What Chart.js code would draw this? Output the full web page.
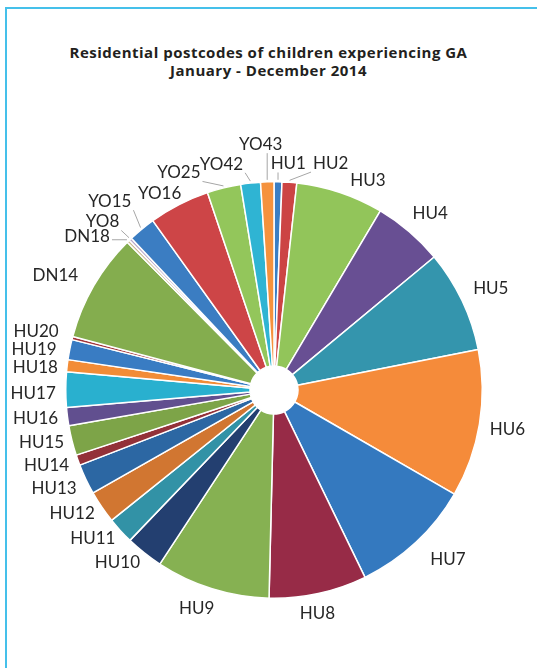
<!DOCTYPE html>
<html>
<head>
<meta charset="utf-8">
<script src="https://cdn.jsdelivr.net/npm/chart.js@4.4.1/dist/chart.umd.min.js"></script>
<style>
  html, body { margin: 0; padding: 0; background: #fff; }
  body { width: 537px; height: 668px; position: relative; overflow: hidden; }
  #frame {
    position: absolute; left: 5px; top: 7px; right: -10px; bottom: -10px;
    border-left: 2px solid #45c0ea; border-top: 2px solid #45c0ea;
  }
  .title {
    position: absolute; left: 0; width: 537px; text-align: center;
    font: bold 15px "Open Sans", sans-serif; color: #231f20; letter-spacing: 0.5px;
  }
  #chart { position: absolute; left: 0; top: 0; }
</style>
</head>
<body>
<div id="frame"></div>
<div class="title" style="top:42px">Residential postcodes of children experiencing GA</div>
<div class="title" style="top:60px">January - December 2014</div>
<canvas id="chart" width="537" height="668"></canvas>
<script>
// postcode districts, clockwise from 12 o'clock
const postcodes = ['HU1', 'HU2', 'HU3', 'HU4', 'HU5', 'HU6', 'HU7', 'HU8', 'HU9', 'HU10',
  'HU11', 'HU12', 'HU13', 'HU14', 'HU15', 'HU16', 'HU17', 'HU18', 'HU19', 'HU20',
  'DN14', 'DN18', 'YO8', 'YO15', 'YO16', 'YO25', 'YO42', 'YO43'];

// share of children (%)
const shares = [0.61, 1.14, 6.78, 5.44, 7.92, 11.44, 9.47, 7.58, 8.86, 2.92,
  2.08, 2.53, 2.36, 0.81, 2.31, 1.42, 2.72, 0.94, 1.56, 0.25,
  8.42, 0.22, 0.22, 2.11, 4.72, 2.61, 1.53, 1.03];

const sliceColours = ['#3a7ec4', '#cc4444', '#92c55a', '#684f93', '#3495ad', '#f58b3a', '#3479bf', '#972b47', '#86b152', '#233f70',
  '#3292a6', '#d17631', '#2c67a3', '#933139', '#7da448', '#614f8f', '#29b0cf', '#f28c37', '#397cc3', '#a3343a',
  '#84ad4e', '#cdb992', '#b8a7c9', '#3b7dc2', '#cd4547', '#93c65b', '#2fb4d3', '#f5923d'];

// hand tweaks for crowded labels: [dx, dy, leader line]
const labelNudge = {
  HU1: [10, -2, true], HU2: [40, -2, true], HU3: [21, 8], HU4: [4, 1], HU5: [3, 0],
  HU7: [14, -3], HU8: [-5, 0], HU9: [-9, -1], HU10: [-9, -13], HU11: [-5, -13],
  HU12: [-3, -12], HU13: [-2, -5], HU14: [0, -6], HU15: [2, -7], HU16: [1, -3],
  HU17: [0, 3], HU18: [1, 5], HU19: [-3, 6], HU20: [-4, 1], DN14: [-10, 6],
  DN18: [-20, 16, true], YO8: [-10, 1, true], YO15: [-14, -6, true], YO16: [-8, 11],
  YO25: [-40, 5, true], YO42: [-27, -1, true], YO43: [-6, -21, true]
};

const outsideLabels = {
  id: 'outsideLabels',
  afterDatasetsDraw(chart) {
    const ctx = chart.ctx;
    const arcs = chart.getDatasetMeta(0).data;
    ctx.save();
    ctx.font = '17px Lato';
    ctx.lineWidth = 1;
    arcs.forEach((arc, i) => {
      const p = arc.getProps(['x', 'y', 'startAngle', 'endAngle', 'outerRadius'], true);
      const mid = (p.startAngle + p.endAngle) / 2;
      const cos = Math.cos(mid), sin = Math.sin(mid);
      const name = chart.data.labels[i];
      const w = ctx.measureText(name).width;
      const h = 12;
      const d = p.outerRadius + 10 + Math.abs(cos) * w / 2 + Math.abs(sin) * h / 2;
      const nudge = labelNudge[name] || [0, 0, false];
      const lx = p.x + cos * d + nudge[0];
      const ly = p.y + sin * d + nudge[1];
      if (nudge[2]) {
        const sx = p.x + cos * (p.outerRadius + 2);
        const sy = p.y + sin * (p.outerRadius + 2);
        const ex = Math.max(lx - w / 2 - 2, Math.min(sx, lx + w / 2 + 2));
        const ey = Math.max(ly - h / 2 - 3, Math.min(sy, ly + h / 2 + 3));
        ctx.strokeStyle = '#a6a6a6';
        ctx.beginPath();
        ctx.moveTo(sx, sy);
        ctx.lineTo(ex, ey);
        ctx.stroke();
      }
      ctx.fillStyle = '#262626';
      ctx.textAlign = 'center';
      ctx.textBaseline = 'alphabetic';
      ctx.fillText(name, lx, ly + 6);
    });
    ctx.restore();
  }
};

new Chart(document.getElementById('chart'), {
  type: 'doughnut',
  data: {
    labels: postcodes,
    datasets: [{
      data: shares,
      backgroundColor: sliceColours,
      borderColor: '#ffffff',
      borderWidth: 1.5
    }]
  },
  options: {
    responsive: false,
    animation: false,
    cutout: 24,
    layout: { padding: { left: 65, top: 181, right: 54, bottom: 69 } },
    plugins: {
      legend: { display: false },
      tooltip: { enabled: false },
      title: { display: false }
    }
  },
  plugins: [outsideLabels]
});
</script>
</body>
</html>
